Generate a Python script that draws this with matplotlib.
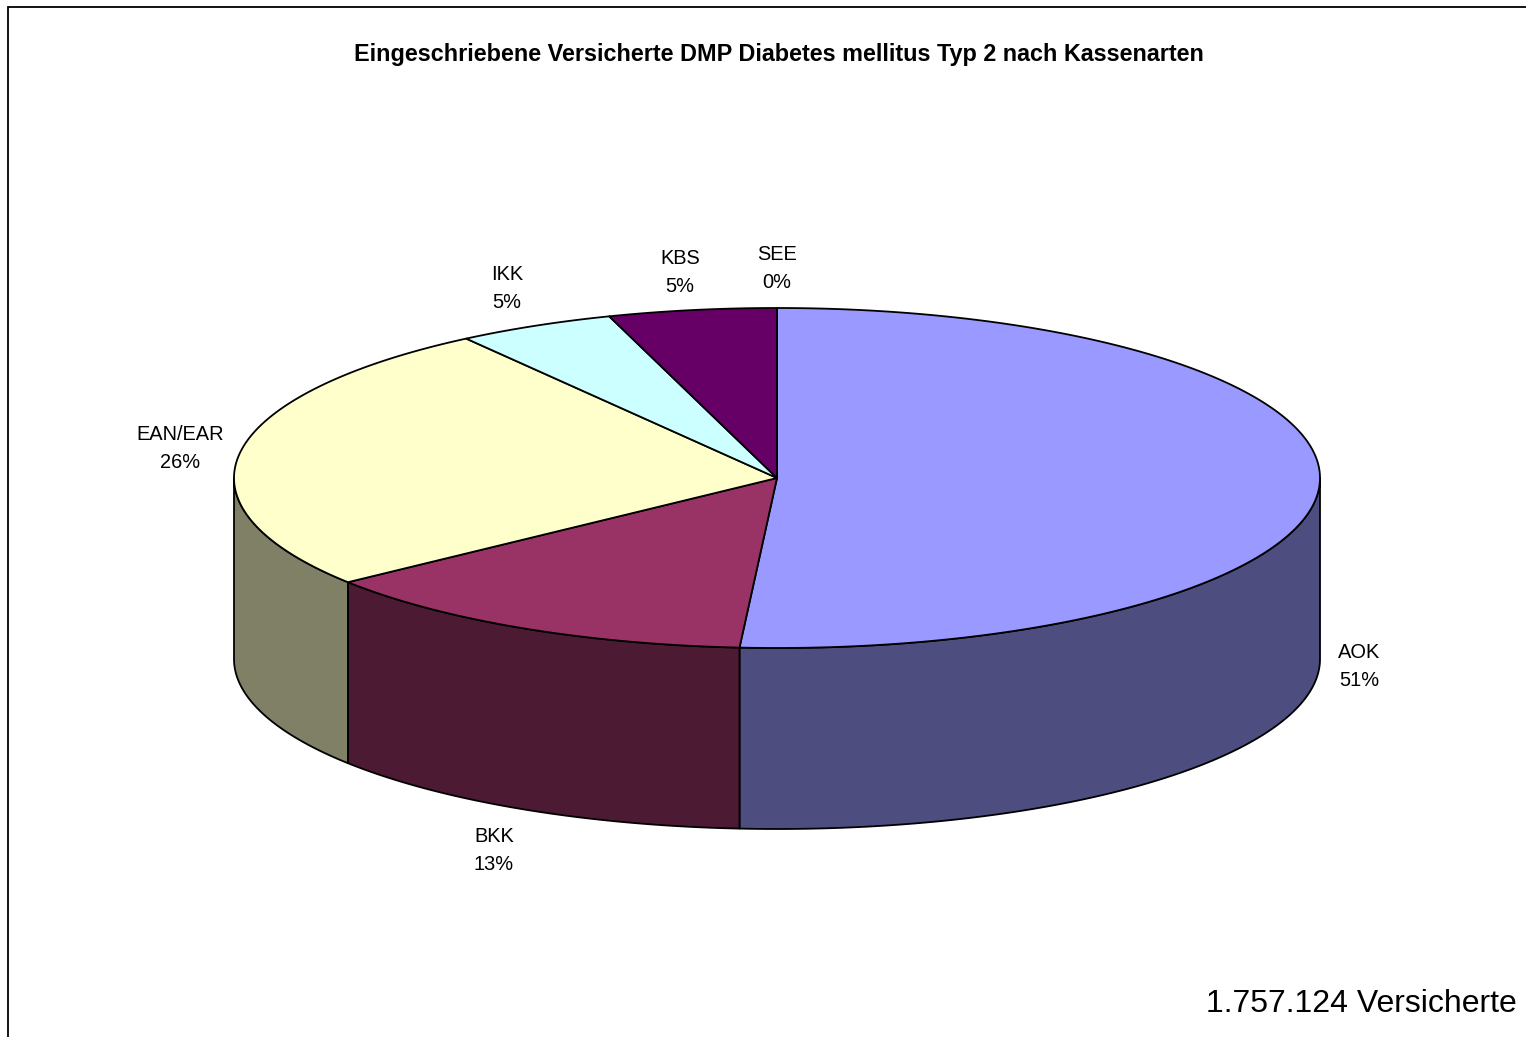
#!/usr/bin/env python3
"""3D-look pie: enrolled DMP diabetes type 2 members by fund type."""
import numpy as np
import matplotlib
matplotlib.use("Agg")
import matplotlib.pyplot as plt
from matplotlib.patches import Polygon

W, H = 1526, 1037

names = ["AOK", "BKK", "EAN/EAR", "IKK", "KBS", "SEE"]
shares = [51.1, 13.4, 25.8, 4.7, 5.0, 0.0]     # real share, picks the angle
pct_labels = ["51%", "13%", "26%", "5%", "5%", "0%"]
top_colors = ["#9999FF", "#993366", "#FFFFCC", "#CCFFFF", "#660066", "#FFFFFF"]
side_colors = ["#4D4D80", "#4D1A33", "#808066", "#668080", "#330033", "#808080"]

title = "Eingeschriebene Versicherte DMP Diabetes mellitus Typ 2 nach Kassenarten"
note = "1.757.124 Versicherte"

# pie geometry in pixels
CX, CY, RX, RY, DEPTH = 777, 478, 543, 170, 181
label_pos = [(1359, 667), (494, 850), (180, 449), (507, 289), (680, 273), (777, 269)]

plt.rcParams["font.family"] = ["Liberation Sans", "DejaVu Sans"]

fig = plt.figure(figsize=(W / 100, H / 100), dpi=100)
ax = fig.add_axes([0, 0, 1, 1])
ax.set_xlim(0, W)
ax.set_ylim(H, 0)
ax.axis("off")


def rim(a0, a1, dy=0.0):
    # a = degrees clockwise from 12 o'clock
    a = np.radians(np.linspace(a0, a1, 200))
    return np.column_stack([CX + RX * np.sin(a), CY + dy - RY * np.cos(a)])


edges = np.cumsum([0] + shares) / sum(shares) * 360

# side wall first, only the front half (90..270) is visible
for i in range(len(names)):
    a0, a1 = max(edges[i], 90), min(edges[i + 1], 270)
    if a1 <= a0:
        continue
    pts = np.vstack([rim(a0, a1), rim(a0, a1, DEPTH)[::-1]])
    ax.add_patch(Polygon(pts, closed=True, fc=side_colors[i], ec="black", lw=1.3, joinstyle="round"))

# top face
for i in range(len(names)):
    if shares[i] == 0:
        continue
    pts = np.vstack([[CX, CY], rim(edges[i], edges[i + 1])])
    ax.add_patch(Polygon(pts, closed=True, fc=top_colors[i], ec="black", lw=1.3, joinstyle="round"))

for i, (x, y) in enumerate(label_pos):
    ax.text(x, y, names[i] + "\n" + pct_labels[i], ha="center", va="center",
            fontsize=14.4, linespacing=1.6, color="black")

ax.text(778.5, 55, title, ha="center", va="center", fontsize=16.82, fontweight="bold")
ax.text(1517, 1004, note, ha="right", va="center", fontsize=23)

# chart frame, open at the bottom and right edge
ax.plot([8, 8, W], [H, 6.5, 6.5], color="black", lw=1.3, solid_joinstyle="miter")

fig.savefig("out.png", dpi=100)
